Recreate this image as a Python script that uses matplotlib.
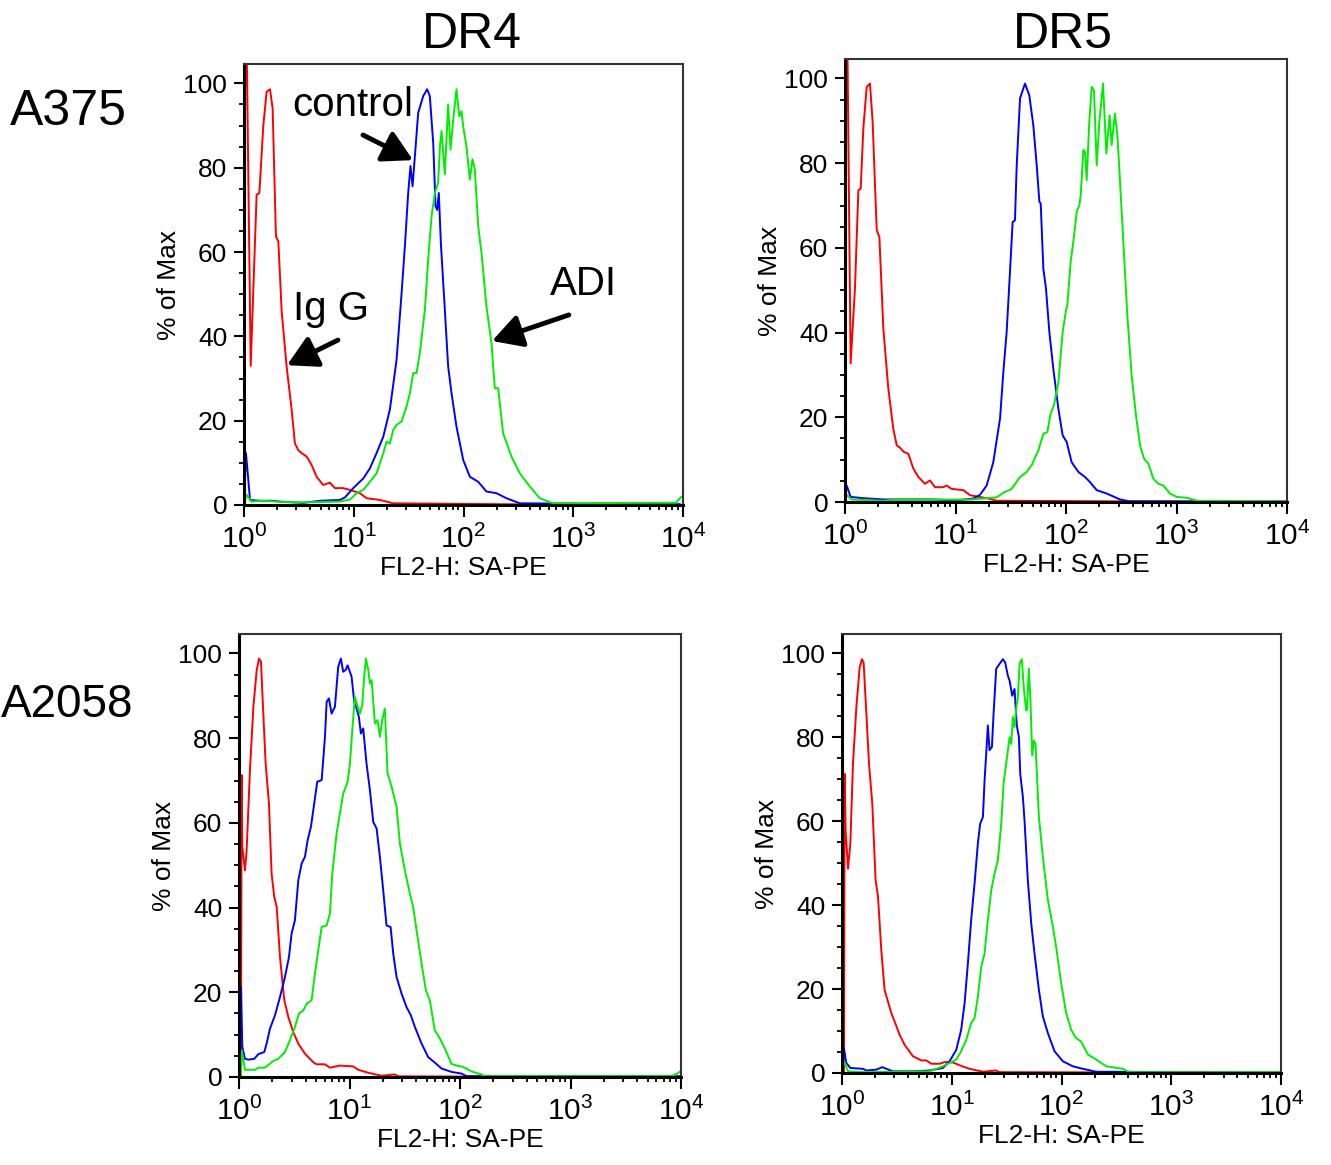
import numpy as np
import matplotlib.pyplot as plt
from matplotlib.ticker import LogLocator, NullFormatter, MultipleLocator, LogFormatterSciNotation

plt.rcParams['font.family'] = ['Liberation Sans', 'DejaVu Sans']
plt.rcParams['mathtext.fontset'] = 'custom'
plt.rcParams['mathtext.rm'] = 'Liberation Sans'
plt.rcParams['mathtext.it'] = 'Liberation Sans:italic'
plt.rcParams['mathtext.bf'] = 'Liberation Sans:bold'

# log10(FL2-H) positions and % of Max
# A375 / DR4
a375_dr4_igg_log = [0.0, 0.012, 0.024, 0.061, 0.115, 0.14, 0.176, 0.206, 0.237, 0.261, 0.291, 0.313, 0.343,
                    0.388, 0.434, 0.464, 0.495, 0.525, 0.571, 0.616, 0.662, 0.722, 0.783, 0.829, 0.904,
                    0.965, 1.056, 1.117, 1.238, 1.36, 2.513, 4.0]
a375_dr4_igg_pct = [0, 115, 110, 33, 73.6, 74, 90, 98, 98.6, 94, 63.7, 62.5, 46, 32.9, 22.6, 14.6, 13, 12.3,
                    11.5, 9.5, 6.7, 4.75, 5.3, 4, 4, 3.6, 2.8, 1.6, 1.2, 0.4, 0.15, 0]
a375_dr4_ctrl_log = [0.0, 0.018, 0.055, 0.146, 0.267, 0.328, 0.54, 0.692, 0.874, 0.92, 0.995, 1.087, 1.147,
                     1.208, 1.269, 1.329, 1.39, 1.436, 1.466, 1.496, 1.517, 1.536, 1.557, 1.587, 1.633,
                     1.669, 1.693, 1.724, 1.745, 1.76, 1.775, 1.794, 1.83, 1.86, 1.891, 1.936, 1.997,
                     2.058, 2.134, 2.209, 2.3, 2.392, 2.513, 3.97]
a375_dr4_ctrl_pct = [0, 12.3, 1.2, 1, 1, 0.8, 0.5, 1, 1.2, 1.8, 4, 6.3, 8.7, 12.3, 16.2, 22.6, 34.4, 50.3,
                     61.4, 74, 80.4, 75.6, 82.7, 93, 97, 98.6, 97, 85.9, 70.9, 70, 74, 62, 46.3, 32.9,
                     26.5, 18.6, 10.7, 6.7, 5.5, 3.2, 2.8, 1.6, 0.4, 0.2]
a375_dr4_adi_log = [0.0, 0.024, 0.07, 0.146, 0.48, 0.874, 0.965, 1.026, 1.087, 1.147, 1.208, 1.269, 1.299,
                    1.329, 1.36, 1.39, 1.436, 1.481, 1.511, 1.542, 1.572, 1.602, 1.648, 1.678, 1.709,
                    1.739, 1.769, 1.785, 1.8, 1.83, 1.86, 1.882, 1.906, 1.936, 1.961, 1.982, 1.997,
                    2.027, 2.058, 2.082, 2.103, 2.134, 2.164, 2.209, 2.255, 2.285, 2.316, 2.361, 2.437,
                    2.513, 2.604, 2.695, 2.816, 3.939, 3.97, 4.0]
a375_dr4_adi_pct = [0, 2.4, 0.8, 1, 0.6, 0.8, 1.3, 2.8, 3.6, 5.5, 7.5, 12.3, 15, 14.6, 17.8, 19, 19.8, 23.4,
                    26.5, 31.3, 31.3, 36, 46.3, 58.2, 68.5, 74, 76.4, 85, 88.7, 78.4, 95, 84.3, 91.4,
                    98.6, 92.2, 93.4, 89.9, 85, 77.2, 82, 79.6, 66.1, 59.8, 47.1, 38.4, 27.7, 27.7, 17,
                    11.5, 7.5, 4.4, 1.6, 0.4, 0.55, 1.6, 2.2]

# A375 / DR5
a375_dr5_igg_log = [0.0, 0.01, 0.021, 0.051, 0.09, 0.121, 0.142, 0.166, 0.196, 0.226, 0.25, 0.287, 0.311,
                    0.347, 0.392, 0.437, 0.468, 0.498, 0.534, 0.573, 0.618, 0.664, 0.724, 0.769, 0.814,
                    0.89, 0.92, 0.965, 1.071, 1.131, 1.282, 1.373, 2.519, 4.0]
a375_dr5_igg_pct = [0, 115, 110, 32.7, 50.4, 73.6, 74, 88.2, 98, 98.8, 89.8, 64.2, 62.6, 40.9, 26.8, 17.3,
                    13.4, 12.8, 11.8, 11.4, 7.9, 5.9, 4.3, 5.1, 3.5, 3.5, 3.9, 3.1, 2.8, 1.6, 0.9, 0.3,
                    0.15, 0]
a375_dr5_ctrl_log = [0.0, 0.015, 0.051, 0.166, 0.347, 0.769, 1.011, 1.161, 1.222, 1.282, 1.342, 1.403,
                     1.433, 1.463, 1.493, 1.517, 1.538, 1.554, 1.584, 1.629, 1.668, 1.704, 1.735, 1.759,
                     1.771, 1.795, 1.819, 1.849, 1.885, 1.931, 1.97, 2.006, 2.051, 2.112, 2.172, 2.217,
                     2.278, 2.368, 2.489, 2.579, 3.997]
a375_dr5_ctrl_pct = [0, 3.9, 1.2, 0.9, 0.6, 0.6, 0.4, 0.8, 1.7, 3.9, 9.4, 19.7, 30.7, 40.2, 54.3, 66.1,
                     66.5, 79.5, 95.3, 98.8, 96, 89, 79.5, 70.9, 70.5, 55.1, 50.4, 40.2, 31.5, 22, 15.7,
                     14.2, 9.4, 7.1, 5.9, 4.7, 2.8, 2, 0.6, 0.15, 0.15]
a375_dr5_adi_log = [0.0, 0.015, 0.06, 0.347, 0.468, 1.131, 1.373, 1.433, 1.508, 1.584, 1.644, 1.689, 1.75,
                    1.795, 1.831, 1.861, 1.891, 1.931, 1.97, 2.0, 2.012, 2.042, 2.066, 2.097, 2.121,
                    2.133, 2.157, 2.172, 2.187, 2.211, 2.232, 2.253, 2.278, 2.302, 2.335, 2.365, 2.395,
                    2.413, 2.443, 2.465, 2.489, 2.519, 2.555, 2.594, 2.633, 2.67, 2.706, 2.745, 2.79,
                    2.836, 2.881, 2.941, 3.002, 3.092, 3.183, 3.997]
a375_dr5_adi_pct = [0, 1.7, 0.6, 0.3, 0.6, 0.55, 1.1, 2.2, 3.1, 5.9, 7.1, 8.7, 12.2, 16.1, 16.5, 20.9, 22.8,
                    28.3, 40.2, 45.3, 46.5, 56.7, 61.4, 68.5, 70.1, 72.4, 83.1, 82.7, 76, 89.8, 98, 97.2,
                    79.5, 89.8, 98.8, 82.3, 91.3, 84.3, 91.7, 86.6, 75.6, 61.4, 44.1, 29.9, 20.5, 13.4,
                    10.2, 9.1, 5.5, 4.3, 3.9, 2, 1.2, 1, 0.3, 0.15]

# A2058 / DR4
a2058_dr4_igg_log = [0.0, 0.018, 0.024, 0.03, 0.054, 0.069, 0.099, 0.13, 0.16, 0.181, 0.199, 0.22, 0.241,
                     0.271, 0.295, 0.319, 0.341, 0.371, 0.41, 0.446, 0.491, 0.536, 0.597, 0.672, 0.702,
                     0.778, 0.823, 0.913, 1.034, 1.079, 1.17, 1.29, 1.411, 1.441, 2.074, 4.0]
a2058_dr4_igg_pct = [0, 0, 71.3, 54.3, 48.8, 53.5, 72.4, 87.4, 96, 98.8, 98, 85.8, 74, 64.6, 48, 42.5,
                     40.2, 28.3, 18.1, 14.2, 10.6, 7.9, 5.5, 3.5, 3, 3, 2.2, 2.7, 2.5, 1.7, 1, 0.3, 0.6,
                     0.15, 0.1, 0]
a2058_dr4_ctrl_log = [0.0, 0.018, 0.03, 0.054, 0.084, 0.139, 0.175, 0.229, 0.25, 0.28, 0.326, 0.371, 0.416,
                      0.452, 0.476, 0.506, 0.537, 0.567, 0.597, 0.621, 0.651, 0.681, 0.708, 0.748, 0.778,
                      0.793, 0.814, 0.838, 0.868, 0.898, 0.922, 0.943, 0.965, 0.983, 1.019, 1.043, 1.064,
                      1.085, 1.103, 1.124, 1.154, 1.185, 1.215, 1.245, 1.275, 1.305, 1.335, 1.372, 1.396,
                      1.426, 1.471, 1.516, 1.555, 1.592, 1.652, 1.712, 1.772, 1.833, 1.923, 2.014, 2.059,
                      3.997]
a2058_dr4_ctrl_pct = [0, 21.3, 7.1, 4.3, 4.1, 4.3, 5.4, 5.9, 7.9, 11.4, 14.6, 18.9, 23.6, 28.3, 33.9, 37,
                      46.5, 50.4, 52, 55.9, 59.1, 64.6, 69.7, 70.1, 80.3, 88.6, 89.4, 85.8, 87.4, 96.9,
                      98.8, 95.7, 96.1, 97.2, 94.5, 88.6, 87, 85, 81.1, 82.3, 74, 67.7, 60.2, 58.7, 52,
                      44.1, 35.8, 35.4, 29.1, 23.6, 19.7, 16.5, 14.6, 11.8, 7.9, 4.7, 3.4, 2, 1.2, 0.8,
                      0.2, 0.2]
a2058_dr4_adi_log = [0.0, 0.018, 0.024, 0.054, 0.145, 0.175, 0.235, 0.31, 0.356, 0.416, 0.461, 0.506, 0.543,
                     0.582, 0.612, 0.657, 0.687, 0.717, 0.748, 0.793, 0.823, 0.844, 0.883, 0.913, 0.943,
                     0.983, 1.004, 1.025, 1.049, 1.07, 1.094, 1.115, 1.133, 1.148, 1.17, 1.185, 1.2,
                     1.23, 1.254, 1.275, 1.296, 1.32, 1.344, 1.381, 1.426, 1.456, 1.501, 1.546, 1.576,
                     1.607, 1.652, 1.691, 1.727, 1.772, 1.818, 1.863, 1.923, 1.983, 2.029, 2.104, 2.194,
                     2.225, 3.913, 3.973, 4.0]
a2058_dr4_adi_pct = [0, 0, 6.3, 1.7, 1.7, 2.2, 2.2, 3.8, 4.3, 5.9, 8.7, 11.8, 15, 15.7, 17.3, 18.1, 24.4,
                     29.9, 35.4, 35.8, 38.6, 48, 57.5, 62.2, 66.9, 69.7, 74, 81.9, 89.8, 87.8, 85.8, 87.8,
                     94.5, 98.8, 96.1, 92.9, 93.7, 83.5, 84.3, 80.3, 84.3, 87, 71.7, 68.5, 63.8, 55.1,
                     48.8, 43.3, 40.2, 34.6, 26.8, 20.5, 18.1, 11, 9.1, 6.7, 3.1, 2.6, 2.4, 1.3, 0.6,
                     0.2, 0.2, 0.9, 1.5]

# A2058 / DR5
a2058_dr5_igg_log = [0.0, 0.018, 0.024, 0.033, 0.055, 0.076, 0.1, 0.131, 0.161, 0.182, 0.197, 0.222, 0.246,
                     0.276, 0.306, 0.328, 0.358, 0.388, 0.41, 0.449, 0.479, 0.525, 0.571, 0.646, 0.722,
                     0.768, 0.813, 0.889, 0.935, 1.011, 1.086, 1.162, 1.284, 1.405, 1.436, 2.316, 4.0]
a2058_dr5_igg_pct = [0, 0, 71.3, 57.8, 48.7, 54.7, 73.7, 87.2, 96.7, 98.6, 97.8, 85.6, 73.7, 64.2, 46, 42,
                     29.3, 19.8, 17.8, 14.3, 12.3, 9.1, 6.7, 4, 3, 3, 2.2, 2.2, 2.6, 2.5, 1.7, 1, 0.3, 0.6,
                     0.2, 0.15, 0]
a2058_dr5_ctrl_log = [0.0, 0.018, 0.039, 0.076, 0.191, 0.222, 0.313, 0.367, 0.404, 0.464, 0.646, 0.798,
                      0.919, 0.98, 1.041, 1.086, 1.117, 1.147, 1.177, 1.208, 1.238, 1.259, 1.284, 1.299,
                      1.314, 1.329, 1.344, 1.366, 1.381, 1.405, 1.436, 1.466, 1.487, 1.511, 1.527, 1.551,
                      1.572, 1.593, 1.612, 1.624, 1.648, 1.663, 1.693, 1.724, 1.754, 1.794, 1.83, 1.876,
                      1.936, 2.012, 2.103, 2.194, 2.316, 3.991]
a2058_dr5_ctrl_pct = [0, 5.9, 2.4, 1.2, 1, 0.6, 0.8, 1.4, 1, 0.4, 0.4, 0.6, 1.2, 2.8, 5.5, 10.3, 16.6, 26.1,
                      36.5, 45.2, 54.7, 59.4, 61, 69.7, 76.1, 82.8, 76.9, 77.7, 85.6, 96.3, 97.5, 98.6,
                      97.8, 94.7, 93.5, 89.9, 91.5, 82.8, 80, 71.3, 65.8, 60.2, 46, 35.7, 28.5, 19.8,
                      13.5, 9.5, 5.2, 2.8, 1.6, 1, 0.3, 0.15]
a2058_dr5_adi_log = [0.0, 0.018, 0.055, 0.191, 0.798, 0.919, 0.98, 1.041, 1.086, 1.132, 1.177, 1.208, 1.238,
                     1.269, 1.299, 1.329, 1.36, 1.39, 1.42, 1.451, 1.472, 1.496, 1.527, 1.542, 1.557,
                     1.572, 1.587, 1.602, 1.618, 1.639, 1.657, 1.678, 1.684, 1.703, 1.718, 1.733, 1.748,
                     1.763, 1.794, 1.83, 1.876, 1.921, 1.951, 1.997, 2.042, 2.088, 2.133, 2.179, 2.24,
                     2.316, 2.407, 2.558, 2.619, 3.991]
a2058_dr5_adi_pct = [0, 2.8, 0.4, 0.2, 0.4, 1.6, 2.4, 3.2, 5.2, 7.9, 11.9, 13.1, 18.2, 25.4, 28.5, 36.5,
                     43.6, 47.5, 50.7, 59.4, 68.9, 73.7, 80, 78.4, 84.8, 82.4, 86.8, 89.5, 97.5, 98.6,
                     91.5, 86.4, 86.4, 96.3, 88, 75.7, 79.2, 78.4, 61, 51.5, 41.2, 34.9, 30.1, 21.4, 14.3,
                     10.3, 8.3, 7.5, 4.4, 3.2, 1.6, 1, 0.2, 0.2]

igg_color = '#ff0000'
ctrl_color = '#0000ff'
adi_color = '#00ee00'

W, H = 1331, 1165
fig = plt.figure(figsize=(W / 100, H / 100), dpi=100)


def make_axes(left, top, right, bottom):
    return fig.add_axes([left / W, 1 - bottom / H, (right - left) / W, (bottom - top) / H])


def draw_panel(ax, curves):
    for logs, pct, col in curves:
        ax.plot(10 ** np.array(logs), pct, color=col, lw=1.4, solid_joinstyle='round')
    ax.set_xscale('log')
    ax.set_xlim(1, 1e4)
    ax.set_ylim(0, 104.6)
    ax.xaxis.set_major_locator(LogLocator(base=10, numticks=10))
    ax.xaxis.set_minor_locator(LogLocator(base=10, subs=np.arange(2, 10), numticks=10))
    ax.xaxis.set_major_formatter(LogFormatterSciNotation())
    ax.xaxis.set_minor_formatter(NullFormatter())
    ax.yaxis.set_major_locator(MultipleLocator(20))
    ax.yaxis.set_minor_locator(MultipleLocator(5))
    ax.tick_params(axis='both', which='major', direction='out', width=1.5, pad=5)
    ax.tick_params(axis='x', which='major', length=8.5, pad=6, labelsize=21.5)
    ax.tick_params(axis='y', which='major', length=7, labelsize=19)
    ax.tick_params(axis='both', which='minor', direction='out', width=1.3, length=3.5)
    for s in ['left', 'bottom']:
        ax.spines[s].set_linewidth(2.2)
        ax.spines[s].set_color('black')
    for s in ['top', 'right']:
        ax.spines[s].set_linewidth(1.5)
        ax.spines[s].set_color('#333333')
    ax.set_xlabel('FL2-H: SA-PE', fontsize=19, labelpad=1)
    ax.set_ylabel('% of Max', fontsize=19, labelpad=2)


ax1 = make_axes(244, 64, 683, 505)
draw_panel(ax1, [(a375_dr4_igg_log, a375_dr4_igg_pct, igg_color),
                 (a375_dr4_ctrl_log, a375_dr4_ctrl_pct, ctrl_color),
                 (a375_dr4_adi_log, a375_dr4_adi_pct, adi_color)])
ax2 = make_axes(845, 59, 1287, 502)
draw_panel(ax2, [(a375_dr5_igg_log, a375_dr5_igg_pct, igg_color),
                 (a375_dr5_ctrl_log, a375_dr5_ctrl_pct, ctrl_color),
                 (a375_dr5_adi_log, a375_dr5_adi_pct, adi_color)])
ax3 = make_axes(239, 634, 681, 1077)
draw_panel(ax3, [(a2058_dr4_igg_log, a2058_dr4_igg_pct, igg_color),
                 (a2058_dr4_ctrl_log, a2058_dr4_ctrl_pct, ctrl_color),
                 (a2058_dr4_adi_log, a2058_dr4_adi_pct, adi_color)])
ax4 = make_axes(842, 634, 1281, 1073)
draw_panel(ax4, [(a2058_dr5_igg_log, a2058_dr5_igg_pct, igg_color),
                 (a2058_dr5_ctrl_log, a2058_dr5_ctrl_pct, ctrl_color),
                 (a2058_dr5_adi_log, a2058_dr5_adi_pct, adi_color)])

# labels with arrows in the first panel
arrow = dict(arrowstyle='-|>,head_length=0.9,head_width=0.5', lw=3.5, color='black',
             mutation_scale=20, shrinkA=0, shrinkB=0)
ax1.text(0.109, 0.882, 'control', transform=ax1.transAxes, fontsize=29, va='baseline')
ax1.annotate('', xy=(0.385, 0.782), xytext=(0.271, 0.839), xycoords='axes fraction', arrowprops=arrow)
ax1.text(0.112, 0.42, 'Ig G', transform=ax1.transAxes, fontsize=29, va='baseline')
ax1.annotate('', xy=(0.098, 0.317), xytext=(0.214, 0.374), xycoords='axes fraction', arrowprops=arrow)
ax1.text(0.697, 0.476, 'ADI', transform=ax1.transAxes, fontsize=29, va='baseline')
ax1.annotate('', xy=(0.565, 0.372), xytext=(0.74, 0.431), xycoords='axes fraction', arrowprops=arrow)

# column and row headings
fig.text(472 / W, 1 - 48 / H, 'DR4', fontsize=36, ha='center', va='baseline')
fig.text(1063 / W, 1 - 48 / H, 'DR5', fontsize=36, ha='center', va='baseline')
fig.text(10 / W, 1 - 125 / H, 'A375', fontsize=36, ha='left', va='baseline')
fig.text(1 / W, 1 - 717 / H, 'A2058', fontsize=33, ha='left', va='baseline')

fig.savefig('out.png', dpi=100)
